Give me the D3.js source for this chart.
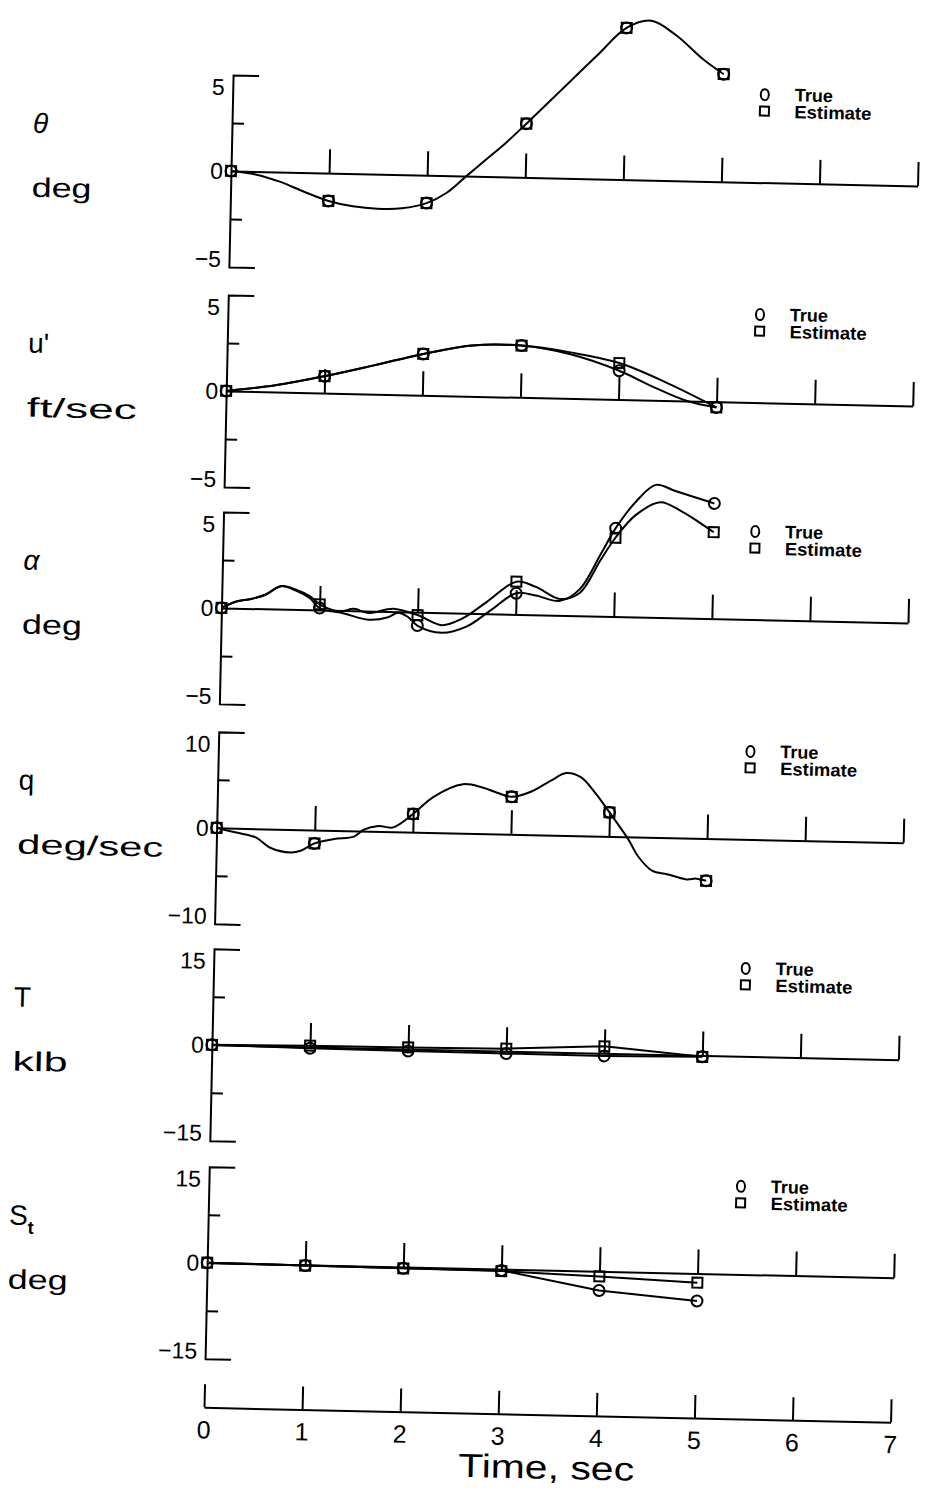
<!DOCTYPE html>
<html lang="en">
<head>
<meta charset="utf-8">
<title>True and estimated states</title>
<script src="https://cdnjs.cloudflare.com/ajax/libs/d3/7.8.5/d3.min.js"></script>
<style>
  body { margin: 0; background: #fff; }
  svg { display: block; }
  .axis path, .axis line { stroke: #000; stroke-width: 2; }
  .curve { fill: none; stroke: #000; stroke-width: 2; }
  .mark { fill: none; stroke: #000; stroke-width: 2; }
  text { font-family: "Liberation Sans", Arial, sans-serif; fill: #000; }
  .legend { font-weight: bold; font-size: 18px; }
</style>
</head>
<body>
<div id="vis"></div>
<script>
// ---- data ----
var timeTicks = [0, 1, 2, 3, 4, 5, 6, 7];
var markTimes = [0, 1, 2, 3, 4, 5];

// theta, deg (true and estimate lie on top of each other)
var thetaTime = [0, 0.25, 0.5, 0.75, 1, 1.25, 1.5, 1.75, 2, 2.2, 2.4, 2.6, 2.8, 3, 3.35, 3.7, 4, 4.25, 4.5, 4.8, 5];
var thetaVal  = [0, -0.15, -0.5, -1.0, -1.45, -1.7, -1.8, -1.75, -1.45, -0.9, 0.0, 0.9, 1.8, 2.8, 4.6, 6.4, 7.9, 8.3, 7.6, 6.3, 5.6];
var thetaMarkTrue = [0, -1.45, -1.45, 2.8, 7.9, 5.6];
var thetaMarkEst  = [0, -1.45, -1.45, 2.8, 7.9, 5.6];

// u', ft/sec
var uTrueTime = [0, 0.5, 1, 1.5, 2, 2.5, 3, 3.5, 4, 4.35, 4.7, 5];
var uTrueVal  = [0, 0.35, 0.88, 1.5, 2.15, 2.65, 2.7, 2.3, 1.5, 0.7, 0.0, -0.3];
var uEstTime  = [0, 0.5, 1, 1.5, 2, 2.5, 3, 3.5, 4, 4.5, 5];
var uEstVal   = [0, 0.35, 0.88, 1.5, 2.15, 2.65, 2.7, 2.4, 1.9, 0.9, -0.3];
var uMarkTrue = [0, 0.88, 2.15, 2.7, 1.5, -0.3];
var uMarkEst  = [0, 0.88, 2.15, 2.7, 1.9, -0.3];

// alpha, deg
var aTrueTime = [0, 0.15, 0.3, 0.45, 0.6, 0.75, 0.9, 1, 1.25, 1.5, 1.7, 1.8, 1.9, 2, 2.25, 2.5, 2.75, 3, 3.2, 3.45, 3.65, 3.85, 4, 4.2, 4.4, 4.6, 4.8, 5];
var aTrueVal  = [0, 0.35, 0.5, 0.75, 1.2, 1.0, 0.6, 0.1, -0.15, -0.45, -0.3, -0.05, -0.25, -0.7, -1.05, -0.7, 0.2, 1.1, 1.0, 0.75, 1.4, 3.2, 4.6, 6.0, 6.9, 6.6, 6.3, 6.0];
var aEstTime  = [0, 0.15, 0.3, 0.45, 0.6, 0.75, 0.9, 1, 1.2, 1.35, 1.5, 1.75, 2, 2.25, 2.45, 2.7, 3, 3.2, 3.45, 3.65, 3.85, 4, 4.2, 4.45, 4.65, 4.85, 5];
var aEstVal   = [0, 0.35, 0.5, 0.75, 1.2, 1.05, 0.7, 0.3, -0.05, 0.1, -0.1, 0.15, -0.15, -0.65, -0.3, 0.6, 1.7, 1.45, 0.85, 1.2, 2.9, 4.1, 5.3, 6.0, 5.6, 5.0, 4.5];
var aMarkTrue = [0, 0.1, -0.7, 1.1, 4.6, 6.0];
var aMarkEst  = [0, 0.3, -0.15, 1.7, 4.1, 4.5];

// q, deg/sec (true and estimate lie on top of each other)
var qTime = [0, 0.2, 0.4, 0.55, 0.76, 0.86, 1, 1.2, 1.4, 1.5, 1.65, 1.8, 2, 2.2, 2.5, 2.7, 2.85, 3, 3.2, 3.4, 3.55, 3.7, 3.85, 4, 4.2, 4.3, 4.45, 4.6, 4.8, 4.9, 5];
var qVal  = [0, -0.45, -0.9, -1.95, -2.4, -2.2, -1.4, -0.9, -0.6, 0.15, 0.55, 0.45, 1.9, 3.7, 5.1, 4.8, 4.3, 3.9, 4.5, 5.7, 6.5, 6.1, 4.5, 2.5, -0.3, -2.0, -3.5, -3.8, -4.3, -4.2, -4.4];
var qMarkTrue = [0, -1.4, 1.9, 3.9, 2.5, -4.4];
var qMarkEst  = [0, -1.4, 1.9, 3.9, 2.5, -4.4];

// T, klb
var tMarkTrue = [0, -0.2, -0.3, -0.35, -0.4, -0.2];
var tMarkEst  = [0, 0.2, 0.25, 0.4, 1.1, -0.2];

// S_t, deg
var sMarkTrue = [0, -0.1, -0.2, -0.2, -3.0, -4.3];
var sMarkEst  = [0, -0.1, -0.2, -0.3, -0.8, -1.45];

// ---- layout ----
var width = 927, height = 1500;
var unitPx = 98.1;          // px per second
var halfH = 96;             // px from zero line to end of y axis
var panelZero = [0, 220, 437, 657, 874, 1092];
var bottomAxisY = 1236.6;

var svg = d3.select('#vis').append('svg')
    .attr('width', width)
    .attr('height', height);

// the scanned figure is turned slightly clockwise
var g = svg.append('g')
    .attr('transform', 'translate(231,171) rotate(1.25)');

var x = d3.scaleLinear().domain([0, 7]).range([0, 7 * unitPx]);

function pairs(ts, vs) {
    return ts.map(function(t, i) { return [t, vs[i]]; });
}

var panels = [
    { sym: 'θ', italic: true, unit: 'deg', unitLen: 60, m: 5,
      curves: [pairs(thetaTime, thetaVal)], smooth: true,
      markTrue: thetaMarkTrue, markEst: thetaMarkEst },
    { sym: "u'", unit: 'ft/sec', unitLen: 110, m: 5,
      curves: [pairs(uTrueTime, uTrueVal), pairs(uEstTime, uEstVal)], smooth: true,
      markTrue: uMarkTrue, markEst: uMarkEst },
    { sym: 'α', italic: true, unit: 'deg', unitLen: 60, m: 5,
      curves: [pairs(aTrueTime, aTrueVal), pairs(aEstTime, aEstVal)], smooth: true,
      markTrue: aMarkTrue, markEst: aMarkEst },
    { sym: 'q', unit: 'deg/sec', unitLen: 146, m: 10,
      curves: [pairs(qTime, qVal)], smooth: true,
      markTrue: qMarkTrue, markEst: qMarkEst },
    { sym: 'T', unit: 'klb', unitLen: 55, m: 15,
      curves: [pairs(markTimes, tMarkTrue), pairs(markTimes, tMarkEst)], smooth: false,
      markTrue: tMarkTrue, markEst: tMarkEst },
    { sym: 'S', sub: 't', unit: 'deg', unitLen: 60, m: 15,
      curves: [pairs(markTimes, sMarkTrue), pairs(markTimes, sMarkEst)], smooth: false,
      markTrue: sMarkTrue, markEst: sMarkEst }
];

panels.forEach(function(p, i) {
    var z = panelZero[i];
    var y = d3.scaleLinear().domain([-p.m, p.m]).range([z + halfH, z - halfH]);
    var pg = g.append('g');

    // y axis bracket with half-way ticks
    pg.append('g')
        .attr('class', 'axis')
        .call(d3.axisRight(y)
            .tickValues([-p.m / 2, p.m / 2])
            .tickSize(12)
            .tickSizeOuter(26)
            .tickFormat(''));

    // zero line with upward ticks
    pg.append('g')
        .attr('class', 'axis')
        .attr('transform', 'translate(0,' + y(0) + ')')
        .call(d3.axisTop(x)
            .tickValues(timeTicks.slice(1))
            .tickSize(24)
            .tickSizeOuter(0)
            .tickFormat(''));

    // tick labels
    var lab = [
        { v: p.m, txt: String(p.m), dy: 12 },
        { v: 0, txt: '0', dy: 0 },
        { v: -p.m, txt: '\u2212' + p.m, dy: -8 }
    ];
    pg.selectAll('.ylab').data(lab).join('text')
        .attr('class', 'ylab')
        .attr('x', -8)
        .attr('y', function(d) { return y(d.v) + d.dy; })
        .attr('dy', '0.36em')
        .attr('text-anchor', 'end')
        .style('font-size', '23px')
        .text(function(d) { return d.txt; });

    // curves
    var line = d3.line()
        .x(function(d) { return x(d[0]); })
        .y(function(d) { return y(d[1]); })
        .curve(p.smooth ? d3.curveCatmullRom.alpha(0.5) : d3.curveLinear);

    pg.selectAll('.curve').data(p.curves).join('path')
        .attr('class', 'curve')
        .attr('d', line);

    // markers
    pg.selectAll('.mtrue').data(pairs(markTimes, p.markTrue)).join('circle')
        .attr('class', 'mark mtrue')
        .attr('cx', function(d) { return x(d[0]); })
        .attr('cy', function(d) { return y(d[1]); })
        .attr('r', 5.5);

    pg.selectAll('.mest').data(pairs(markTimes, p.markEst)).join('rect')
        .attr('class', 'mark mest')
        .attr('x', function(d) { return x(d[0]) - 5; })
        .attr('y', function(d) { return y(d[1]) - 5; })
        .attr('width', 10)
        .attr('height', 10);

    // legend
    var lx = 532;
    pg.append('ellipse')
        .attr('class', 'mark')
        .attr('cx', lx).attr('cy', z - 88)
        .attr('rx', 4).attr('ry', 5.5);
    pg.append('rect')
        .attr('class', 'mark')
        .attr('x', lx - 4.5).attr('y', z - 76)
        .attr('width', 9).attr('height', 9);
    pg.append('text')
        .attr('class', 'legend')
        .attr('x', lx + 30).attr('y', z - 82)
        .text('True');
    pg.append('text')
        .attr('class', 'legend')
        .attr('x', lx + 30).attr('y', z - 65)
        .attr('textLength', 77)
        .attr('lengthAdjust', 'spacingAndGlyphs')
        .text('Estimate');

    // variable name and unit
    var st = pg.append('text')
        .attr('x', -199)
        .attr('y', z - 34)
        .style('font-size', '28px')
        .style('font-style', p.italic ? 'italic' : 'normal');
    st.append('tspan').text(p.sym);
    if (p.sub) {
        st.append('tspan')
            .attr('dy', 9)
            .style('font-size', '18px')
            .style('font-weight', 'bold')
            .text(p.sub);
    }

    pg.append('text')
        .attr('x', -199)
        .attr('y', z + 30)
        .attr('textLength', p.unitLen)
        .attr('lengthAdjust', 'spacingAndGlyphs')
        .style('font-size', '27px')
        .text(p.unit);
});

// common time axis
g.append('g')
    .attr('class', 'axis')
    .attr('transform', 'translate(0,' + bottomAxisY + ')')
    .call(d3.axisTop(x)
        .tickValues(timeTicks)
        .tickSize(23)
        .tickSizeOuter(0)
        .tickFormat(''));

g.selectAll('.xlab').data(timeTicks).join('text')
    .attr('class', 'xlab')
    .attr('x', function(d) { return x(d); })
    .attr('y', bottomAxisY + 22)
    .attr('dy', '0.36em')
    .attr('text-anchor', 'middle')
    .style('font-size', '25px')
    .text(function(d) { return d; });

g.append('text')
    .attr('x', x(3.5))
    .attr('y', bottomAxisY + 64)
    .attr('text-anchor', 'middle')
    .attr('textLength', 176)
    .attr('lengthAdjust', 'spacingAndGlyphs')
    .style('font-size', '33px')
    .text('Time,  sec');
</script>
</body>
</html>
